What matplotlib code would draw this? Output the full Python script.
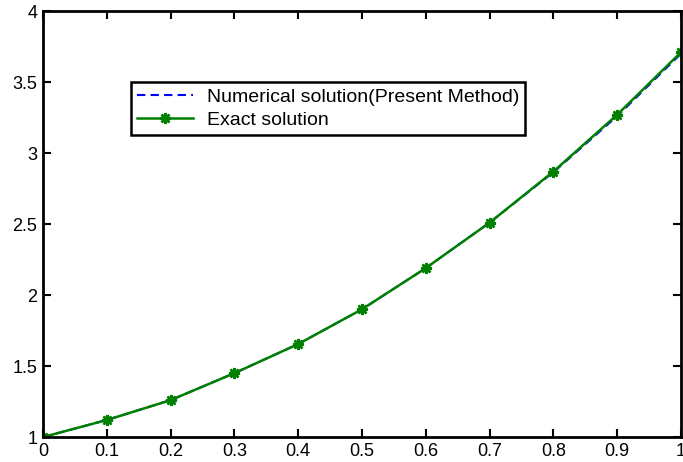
import matplotlib
matplotlib.use("Agg")
import matplotlib.pyplot as plt

# values
x = [0, 0.1, 0.2, 0.3, 0.4, 0.5, 0.6, 0.7, 0.8, 0.9, 1.0]
exact = [1.0, 1.12, 1.26, 1.45, 1.655, 1.90, 2.19, 2.51, 2.87, 3.27, 3.71]
numerical = [1.0, 1.12, 1.26, 1.45, 1.655, 1.90, 2.19, 2.51, 2.865, 3.26, 3.70]

xticks = [0, 0.1, 0.2, 0.3, 0.4, 0.5, 0.6, 0.7, 0.8, 0.9, 1]
xticklabels = ['0', '0.1', '0.2', '0.3', '0.4', '0.5', '0.6', '0.7', '0.8', '0.9', '1']
yticks = [1, 1.5, 2, 2.5, 3, 3.5, 4]
yticklabels = ['1', '1.5', '2', '2.5', '3', '3.5', '4']

plt.rcParams['font.family'] = ['Liberation Sans', 'DejaVu Sans']

fig = plt.figure(figsize=(6.83, 4.62), dpi=100)
ax = fig.add_axes([0.063, 0.054, 0.934, 0.922])

ax.plot(x, numerical, color='blue', linestyle=(0, (4, 2.5)), linewidth=1.5,
        label='Numerical solution(Present Method)')
ax.plot(x, exact, color='#008000', linewidth=1.8, marker=(8, 2, 0), markersize=8,
        markeredgewidth=1.8, label='Exact solution')

ax.set_xlim(0, 1)
ax.set_ylim(1, 4)
ax.set_xticks(xticks)
ax.set_xticklabels(xticklabels)
ax.set_yticks(yticks)
ax.set_yticklabels(yticklabels)
ax.tick_params(direction='in', top=True, right=True, labelsize=13, width=1.5,
               length=6, pad=4)
for s in ax.spines.values():
    s.set_linewidth(2)

leg = ax.legend(loc='upper left', bbox_to_anchor=(0.138, 0.833), fontsize=14,
                frameon=True, fancybox=False, edgecolor='black', framealpha=1,
                handlelength=2.9, borderpad=0.3, labelspacing=0.3,
                handletextpad=0.7, borderaxespad=0)
leg.get_frame().set_linewidth(1.8)

fig.savefig('out.png', dpi=100)
